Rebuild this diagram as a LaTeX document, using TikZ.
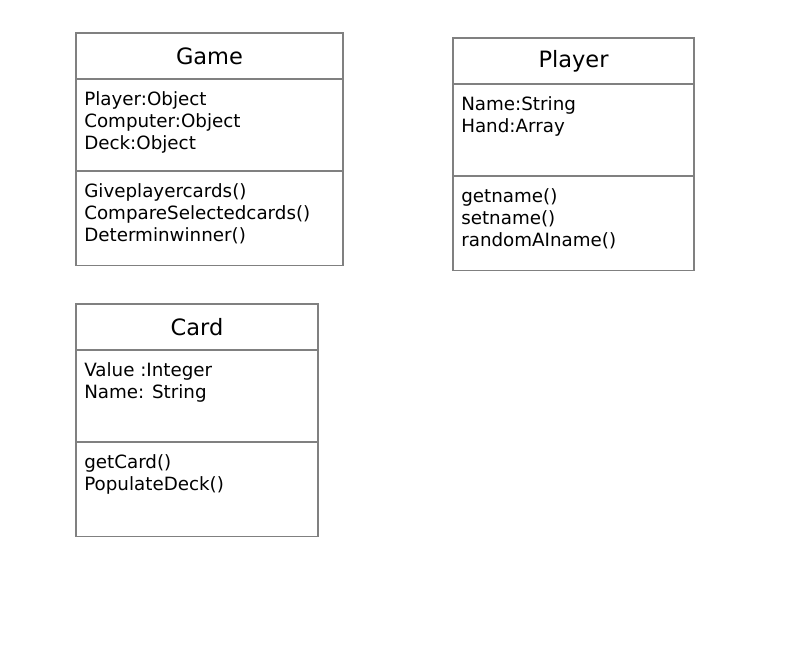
\documentclass[tikz,border=0pt]{standalone}
\usepackage{fontspec}
\setmainfont{DejaVu Sans}
\usetikzlibrary{positioning}

\begin{document}
\begin{tikzpicture}[x=0.025cm, y=-0.025cm]
  \newcommand\titleht{1.15cm}
  \newcommand\attrht{2.3cm}
  \newcommand\opsht{2.35cm}
  \newcommand\txtdown{0.3cm}
  \newcommand\txtright{0.2cm}

  \tikzset{classpart/.style={draw=black!50, line width=0.8pt, inner sep=0pt, outer sep=0pt}}
  \tikzset{classtitle/.style={classpart, font=\fontsize{16}{19}\selectfont}}
  \tikzset{member/.style={inner sep=0pt, align=left, font=\fontsize{13}{15.6}\selectfont}}

  \useasboundingbox (0, 0) rectangle (799, 651);

  % class boxes
  \foreach \cls/\title/\cx/\cy/\boxw/\attrs/\ops in {
    game/Game/76/33/267/{Player:Object\\Computer:Object\\Deck:Object}/{Giveplayercards()\\CompareSelectedcards()\\Determinwinner()},
    player/Player/453/38/241/{Name:String\\Hand:Array}/{getname()\\setname()\\randomAIname()},
    card/Card/76/304/242/{Value :Integer\\Name: String}/{getCard()\\PopulateDeck()}}{
    \node[classtitle, anchor=north west, minimum width=\boxw*0.025cm, minimum height=\titleht] at (\cx, \cy) (\cls) {\title};
    \node[classpart, below=0 of \cls, minimum width=\boxw*0.025cm, minimum height=\attrht] (\cls-attr) {};
    \node[classpart, below=0 of \cls-attr, minimum width=\boxw*0.025cm, minimum height=\opsht] (\cls-ops) {};
    \node[member, below right=\txtdown and \txtright of \cls-attr.north west] (\cls-attr-txt) {\attrs};
    \node[member, below right=\txtdown and \txtright of \cls-ops.north west] (\cls-ops-txt) {\ops};
  }
\end{tikzpicture}
\end{document}
